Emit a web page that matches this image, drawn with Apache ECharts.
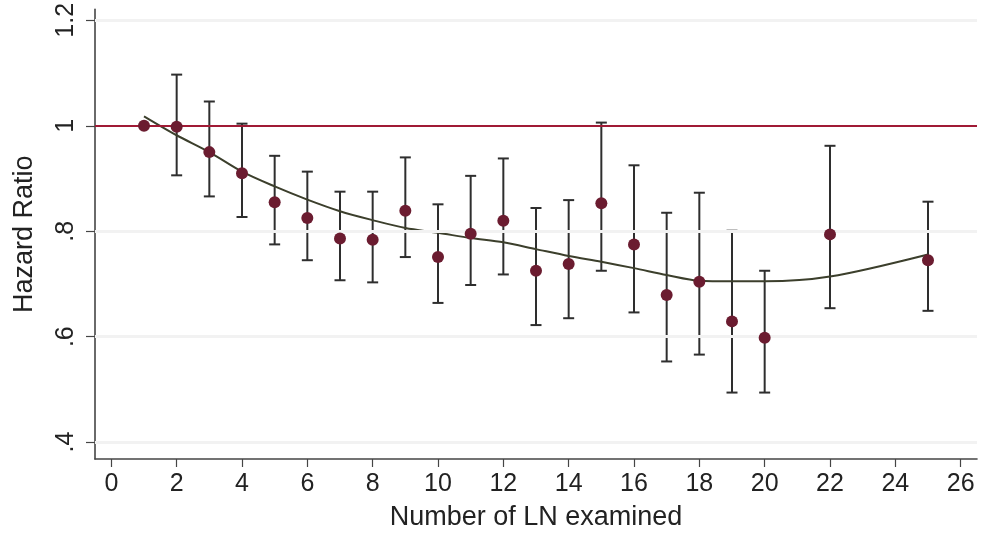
<!DOCTYPE html>
<html>
<head>
<meta charset="utf-8">
<script src="https://cdn.jsdelivr.net/npm/echarts@6/dist/echarts.min.js"></script>
<style>
html,body{margin:0;padding:0;background:#fff;}
#chart{width:987px;height:536px;}
</style>
</head>
<body>
<div id="chart"></div>
<script>
// Data
var xs    = [1, 2, 3, 4, 5, 6, 7, 8, 9, 10, 11, 12, 13, 14, 15, 16, 17, 18, 19, 20, 22, 25];
var hr    = [1.000, 0.998, 0.950, 0.910, 0.855, 0.825, 0.786, 0.784, 0.839, 0.751, 0.795, 0.820, 0.725, 0.738, 0.853, 0.775, 0.679, 0.704, 0.629, 0.598, 0.794, 0.745];
var lower = [null, 0.906, 0.866, 0.827, 0.775, 0.745, 0.707, 0.703, 0.751, 0.664, 0.698, 0.718, 0.622, 0.635, 0.725, 0.646, 0.553, 0.566, 0.494, 0.494, 0.654, 0.649];
var upper = [null, 1.097, 1.046, 1.004, 0.943, 0.913, 0.875, 0.875, 0.940, 0.851, 0.905, 0.938, 0.844, 0.859, 1.006, 0.925, 0.835, 0.873, 0.801, 0.725, 0.962, 0.856];
var fitX  = [1, 2, 3, 4, 5, 6, 7, 8, 9, 10, 11, 12, 13, 14, 15, 16, 17, 18, 19, 20, 22, 25];
var fitY  = [1.018, 0.982, 0.950, 0.913, 0.885, 0.860, 0.838, 0.821, 0.806, 0.797, 0.787, 0.779, 0.766, 0.753, 0.742, 0.730, 0.717, 0.706, 0.705, 0.705, 0.714, 0.756];
var yTicks      = [0.4, 0.6, 0.8, 1, 1.2];
var yTickLabels = ['.4', '.6', '.8', '1', '1.2'];
var xTicks      = [0, 2, 4, 6, 8, 10, 12, 14, 16, 18, 20, 22, 24, 26];
var refLine = 1;

var chart = echarts.init(document.getElementById('chart'));
var FONT = 'Liberation Sans';
var axisColor = '#454545';

var errData = [];
for (var i = 0; i < xs.length; i++) {
  if (lower[i] != null) errData.push([xs[i], lower[i], upper[i]]);
}
var pts = xs.map(function (x, i) { return [x, hr[i]]; });
var fit = fitX.map(function (x, i) { return [x, fitY[i]]; });

var option = {
  backgroundColor: '#ffffff',
  animation: false,
  grid: { left: 95, right: 10, top: 9, bottom: 74, containLabel: false },
  xAxis: {
    type: 'value',
    min: -0.5, max: 26.5,
    name: 'Number of LN examined',
    nameLocation: 'middle',
    nameGap: 45,
    nameTextStyle: { fontFamily: FONT, fontSize: 27, color: '#222' },
    axisLine: { show: true, onZero: false, lineStyle: { color: axisColor, width: 1.6 } },
    axisTick: { show: true, length: 8, inside: false, customValues: xTicks, lineStyle: { color: axisColor, width: 1.2 } },
    axisLabel: { customValues: xTicks, fontFamily: FONT, fontSize: 25, color: '#222', margin: 13 },
    splitLine: { show: false }
  },
  yAxis: {
    type: 'value',
    min: 0.368, max: 1.2207,
    name: 'Hazard Ratio',
    nameLocation: 'middle',
    nameGap: 57,
    nameTextStyle: { fontFamily: FONT, fontSize: 27, color: '#222' },
    axisLine: { show: true, onZero: false, lineStyle: { color: axisColor, width: 1.6 } },
    axisTick: { show: true, length: 9, customValues: yTicks, lineStyle: { color: axisColor, width: 1.2 } },
    axisLabel: {
      customValues: yTicks,
      rotate: 90,
      fontFamily: FONT, fontSize: 25, color: '#222', margin: 16,
      formatter: function (v) {
        for (var k = 0; k < yTicks.length; k++) if (Math.abs(yTicks[k] - v) < 1e-9) return yTickLabels[k];
        return '';
      }
    },
    splitLine: { show: false }
  },
  series: [
    {
      type: 'line',
      data: [],
      silent: true,
      z: 1,
      markLine: {
        silent: true,
        symbol: 'none',
        label: { show: false },
        lineStyle: { color: '#f2f2f2', width: 3, type: 'solid' },
        data: yTicks.filter(function (t) { return t !== refLine; }).map(function (t) { return { yAxis: t }; })
      }
    },
    {
      type: 'line',
      data: [],
      silent: true,
      z: 2,
      markLine: {
        silent: true,
        symbol: 'none',
        label: { show: false },
        lineStyle: { color: '#a01a35', width: 2.2, type: 'solid' },
        data: [{ yAxis: refLine }]
      }
    },
    {
      type: 'custom',
      z: 3,
      data: errData,
      renderItem: function (params, api) {
        var x = api.value(0);
        var lo = api.coord([x, api.value(1)]);
        var hi = api.coord([x, api.value(2)]);
        var hw = 5.5;
        var st = { stroke: '#2e2e2e', lineWidth: 2 };
        return {
          type: 'group',
          children: [
            { type: 'line', shape: { x1: lo[0], y1: lo[1], x2: hi[0], y2: hi[1] }, style: st },
            { type: 'line', shape: { x1: lo[0] - hw, y1: lo[1], x2: lo[0] + hw, y2: lo[1] }, style: st },
            { type: 'line', shape: { x1: hi[0] - hw, y1: hi[1], x2: hi[0] + hw, y2: hi[1] }, style: st }
          ]
        };
      }
    },
    {
      type: 'line',
      data: fit,
      z: 4,
      smooth: 0.3,
      showSymbol: false,
      symbol: 'none',
      lineStyle: { color: '#3c3f2c', width: 2 }
    },
    {
      type: 'scatter',
      data: pts,
      z: 5,
      symbol: 'circle',
      symbolSize: 12,
      itemStyle: { color: '#6b1c30', opacity: 1 }
    }
  ]
};
chart.setOption(option);
</script>
</body>
</html>
